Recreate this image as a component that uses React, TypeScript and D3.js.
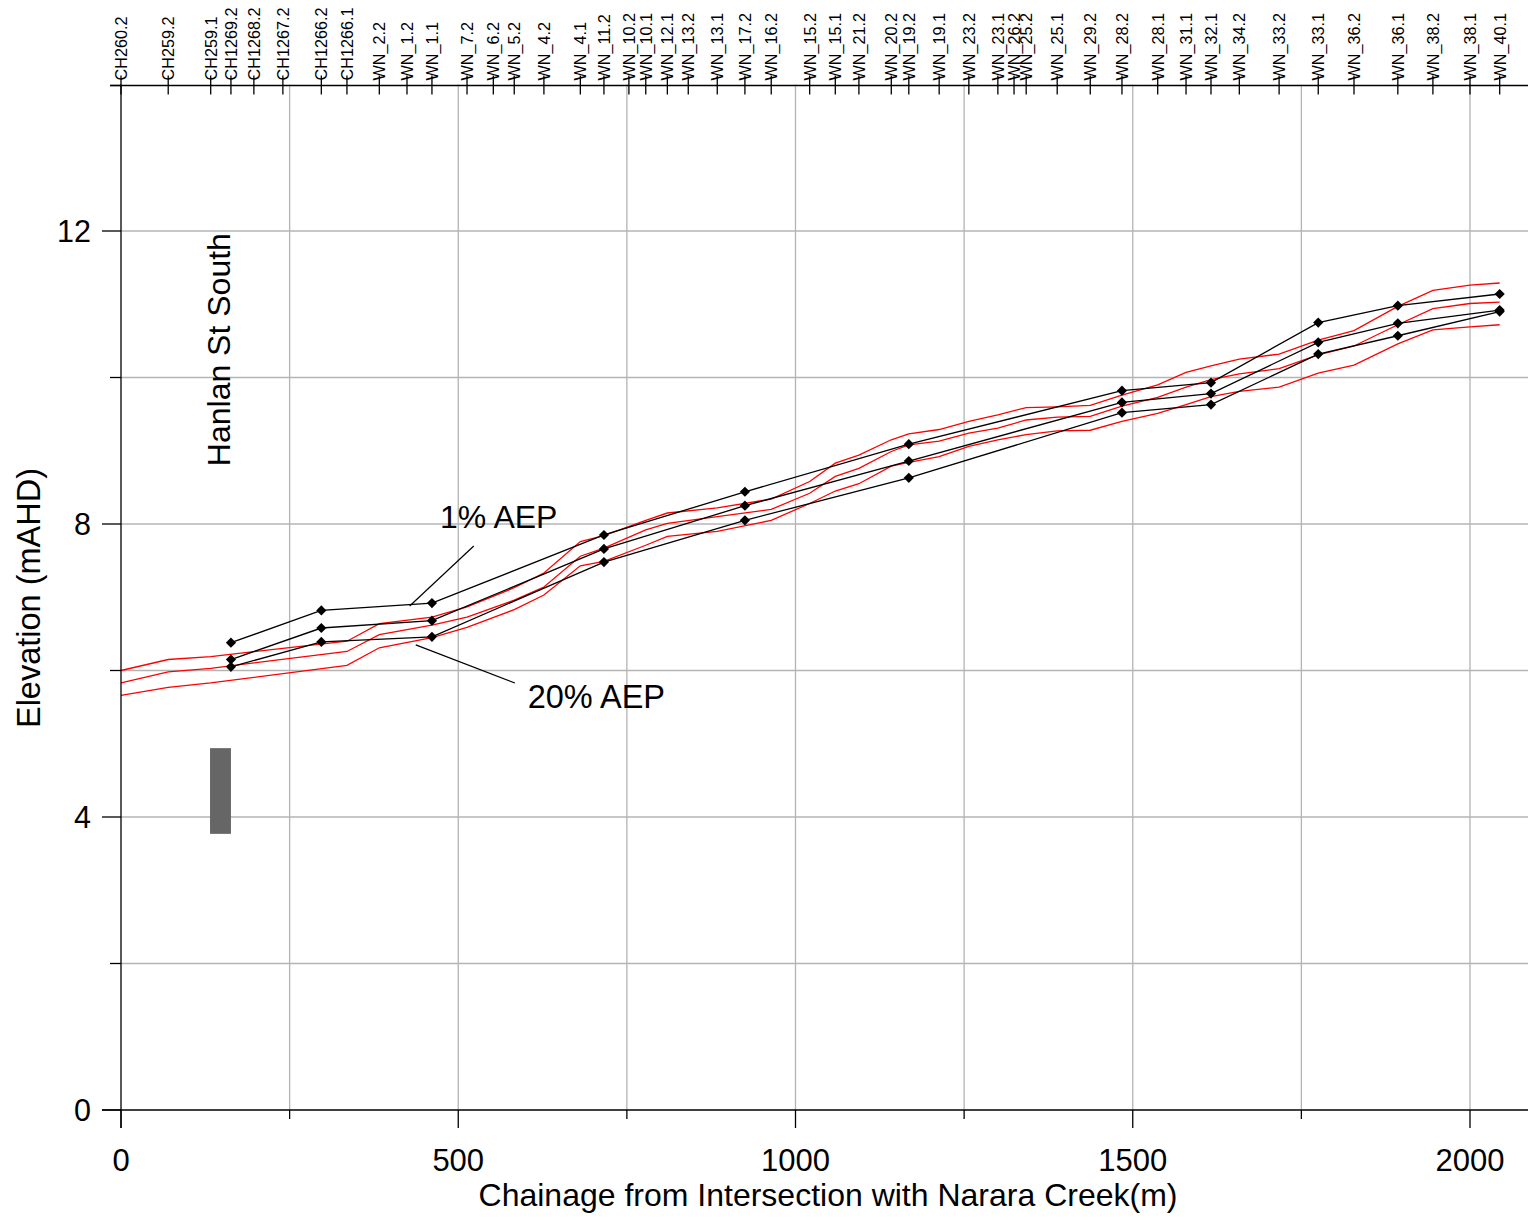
import React from "react";
import * as d3 from "d3";

const sectionNames = ["CH260.2","CH259.2","CH259.1","CH1269.2","CH1268.2","CH1267.2","CH1266.2","CH1266.1","WN_2.2","WN_1.2","WN_1.1","WN_7.2","WN_6.2","WN_5.2","WN_4.2","WN_4.1","WN_11.2","WN_10.2","WN_10.1","WN_12.1","WN_13.2","WN_13.1","WN_17.2","WN_16.2","WN_15.2","WN_15.1","WN_21.2","WN_20.2","WN_19.2","WN_19.1","WN_23.2","WN_23.1","WN_26.2","WN_25.2","WN_25.1","WN_29.2","WN_28.2","WN_28.1","WN_31.1","WN_32.1","WN_34.2","WN_33.2","WN_33.1","WN_36.2","WN_36.1","WN_38.2","WN_38.1","WN_40.1"];
const sectionChainage = [0,70,133,163,197,240,297,335,383,424,461,513,552,583,627,681,716,753,778,810,841,884,925,964,1021,1059,1094,1142,1168,1213,1257,1300,1324,1342,1388,1437,1484,1537,1579,1616,1658,1717,1775,1828,1893,1945,2000,2044];

// Red model profiles
const redChainage = [0,70,133,335,383,461,513,583,627,681,716,778,810,884,964,1021,1059,1094,1142,1168,1213,1257,1300,1342,1388,1437,1484,1537,1579,1616,1658,1717,1775,1828,1893,1945,2000,2044];
const redUpper = [6.00,6.15,6.19,6.40,6.64,6.73,6.87,7.13,7.33,7.76,7.84,8.05,8.15,8.22,8.34,8.58,8.83,8.94,9.15,9.23,9.29,9.40,9.49,9.59,9.60,9.62,9.76,9.90,10.07,10.16,10.25,10.32,10.51,10.64,10.97,11.19,11.26,11.29];
const redMiddle = [5.83,5.98,6.03,6.26,6.49,6.62,6.73,6.96,7.14,7.56,7.67,7.92,8.01,8.10,8.20,8.42,8.65,8.76,8.99,9.08,9.13,9.24,9.31,9.42,9.46,9.47,9.61,9.73,9.87,9.97,10.05,10.12,10.31,10.43,10.72,10.94,11.01,11.03];
const redLower = [5.66,5.77,5.83,6.07,6.31,6.45,6.59,6.83,7.03,7.43,7.49,7.71,7.83,7.90,8.05,8.28,8.45,8.55,8.79,8.84,8.92,9.06,9.15,9.22,9.27,9.28,9.40,9.51,9.63,9.74,9.81,9.87,10.06,10.17,10.46,10.65,10.69,10.72];

// Black observed levels with markers
const blackChainage = [163,297,461,716,925,1168,1484,1616,1775,1893,2044];
const blackTop = [6.38,6.82,6.92,7.85,8.44,9.09,9.82,9.93,10.75,10.98,11.14];
const blackMid = [6.15,6.58,6.68,7.66,8.25,8.86,9.66,9.78,10.48,10.74,10.92];
const blackLow = [6.05,6.39,6.46,7.48,8.05,8.63,9.52,9.63,10.32,10.57,10.90];

const xMajorTicks = [0,500,1000,1500,2000];
const xMinorTicks = [250,750,1250,1750];
const yMajorTicks = [0,4,8,12];
const yMinorTicks = [2,6,10,14];

// annotations
const label1 = { text: "1% AEP", x: 473, y: 7.95, lx1: 523, ly1: 7.70, lx2: 428, ly2: 6.88 };
const label20 = { text: "20% AEP", x: 603, y: 5.49, lx1: 437, ly1: 6.35, lx2: 584, ly2: 5.83 };
const streetLabel = { text: "Hanlan St South", x: 147, y: 10.38 };
const structure = { x0: 132, x1: 163, y0: 3.77, y1: 4.94 };

const FONT = "'Liberation Sans', Arial, sans-serif";

export default function App() {
  const W = 1528, H = 1217;
  const x = d3.scaleLinear().domain([0, 2000]).range([121, 1470]);
  const y = d3.scaleLinear().domain([0, 14]).range([1110, 84.5]);
  const xRight = 1528;
  const line = d3.line<[number, number]>().x(d => x(d[0])).y(d => y(d[1]));
  const zip = (xs: number[], ys: number[]) => xs.map((v, i) => [v, ys[i]] as [number, number]);
  const diamond = d3.symbol().type(d3.symbolSquare).size(52)();
  const gridColor = "#b4b4b4";
  const grids = [...xMinorTicks, ...xMajorTicks.filter(v => v > 0)];
  const yGrids = [...yMinorTicks.filter(v => v < 14), ...yMajorTicks.filter(v => v > 0)];
  const top = y(14);

  return (
    <svg width={W} height={H} style={{ position: "absolute", left: 0, top: 0, background: "#fff" }} fontFamily={FONT}>
      <rect width={W} height={H} fill="#fff" />
      {/* grid */}
      {grids.map(v => (
        <line key={"gx" + v} x1={x(v)} x2={x(v)} y1={top} y2={y(0)} stroke={gridColor} strokeWidth={1.3} />
      ))}
      {yGrids.map(v => (
        <line key={"gy" + v} x1={x(0)} x2={xRight} y1={y(v)} y2={y(v)} stroke={gridColor} strokeWidth={1.3} />
      ))}
      {/* structure */}
      <rect x={x(structure.x0)} y={y(structure.y1)} width={x(structure.x1) - x(structure.x0)} height={y(structure.y0) - y(structure.y1)} fill="#666666" />
      {/* red lines */}
      {[redUpper, redMiddle, redLower].map((s, i) => (
        <path key={"r" + i} d={line(zip(redChainage, s)) || ""} fill="none" stroke="#ff0000" strokeWidth={1.3} />
      ))}
      {/* black lines */}
      {[blackTop, blackMid, blackLow].map((s, i) => (
        <g key={"b" + i}>
          <path d={line(zip(blackChainage, s)) || ""} fill="none" stroke="#000" strokeWidth={1.3} />
          {s.map((v, j) => (
            <path key={j} d={diamond || ""} transform={`translate(${x(blackChainage[j])},${y(v)}) rotate(45)`} fill="#000" />
          ))}
        </g>
      ))}
      {/* axes */}
      <line x1={x(0)} x2={x(0)} y1={top} y2={y(0) + 18} stroke="#000" strokeWidth={1.3} />
      <line x1={x(0) - 19} x2={xRight} y1={y(0)} y2={y(0)} stroke="#000" strokeWidth={1.3} />
      <line x1={x(0) - 11} x2={xRight} y1={top + 1} y2={top + 1} stroke="#000" strokeWidth={1.3} />
      {yMajorTicks.map(v => (
        <g key={"ym" + v}>
          <line x1={x(0) - 19} x2={x(0)} y1={y(v)} y2={y(v)} stroke="#000" strokeWidth={1.3} />
          <text x={91} y={y(v)} dy="0.35em" textAnchor="end" fontSize={30.5}>{v}</text>
        </g>
      ))}
      {yMinorTicks.map(v => (
        <line key={"yn" + v} x1={x(0) - 11} x2={x(0)} y1={y(v) + (v === 14 ? 1 : 0)} y2={y(v) + (v === 14 ? 1 : 0)} stroke="#000" strokeWidth={1.3} />
      ))}
      {xMajorTicks.map(v => (
        <g key={"xm" + v}>
          <line x1={x(v)} x2={x(v)} y1={y(0)} y2={y(0) + 18} stroke="#000" strokeWidth={1.3} />
          <text x={x(v)} y={1171} textAnchor="middle" fontSize={31}>{v}</text>
        </g>
      ))}
      {xMinorTicks.map(v => (
        <line key={"xn" + v} x1={x(v)} x2={x(v)} y1={y(0)} y2={y(0) + 9} stroke="#000" strokeWidth={1.3} />
      ))}
      {/* top section ticks */}
      {sectionChainage.map((c, i) => (
        <g key={"s" + i}>
          <line x1={x(c)} x2={x(c)} y1={top - 9} y2={top + 10} stroke="#000" strokeWidth={1.3} />
          <text transform={`translate(${x(c)},${top - 4}) rotate(-90)`} dy="0.36em" fontSize={16.2} textAnchor="start">{sectionNames[i]}</text>
        </g>
      ))}
      {/* titles */}
      <text x={828} y={1206} textAnchor="middle" fontSize={32}>Chainage from Intersection with Narara Creek(m)</text>
      <text transform={`translate(40,598) rotate(-90)`} textAnchor="middle" fontSize={32.5}>Elevation (mAHD)</text>
      <text transform={`translate(${x(streetLabel.x) + 10},${y(streetLabel.y)}) rotate(-90)`} textAnchor="middle" fontSize={32}>{streetLabel.text}</text>
      {/* annotations */}
      <line x1={x(label1.lx1)} y1={y(label1.ly1)} x2={x(label1.lx2)} y2={y(label1.ly2)} stroke="#000" strokeWidth={1.2} />
      <text x={x(label1.x)} y={y(label1.y)} fontSize={32}>{label1.text}</text>
      <line x1={x(label20.lx1)} y1={y(label20.ly1)} x2={x(label20.lx2)} y2={y(label20.ly2)} stroke="#000" strokeWidth={1.2} />
      <text x={x(label20.x)} y={y(label20.y)} fontSize={32.5}>{label20.text}</text>
    </svg>
  );
}
